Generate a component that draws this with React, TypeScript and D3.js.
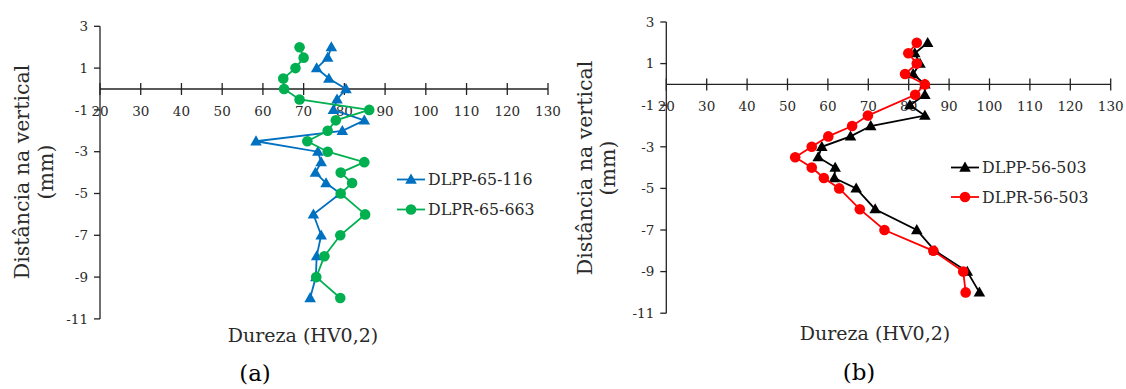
import React from "react";
import * as d3 from "d3";

// ---- data ----
const depthA = [2, 1.5, 1, 0.5, 0, -0.5, -1, -1.5, -2, -2.5, -3, -3.5, -4, -4.5, -5, -6, -7, -8, -9, -10];
const hvDLPP_65_116 = [76.8, 75.9, 73.2, 76.2, 80.4, 78.2, 77.3, 84.9, 79.5, 58.3, 73.5, 74.3, 72.9, 75.5, 79.0, 72.4, 74.3, 73.2, 73.0, 71.6];
const hvDLPR_65_663 = [69.0, 70.0, 68.0, 65.0, 65.2, 69.0, 86.1, 77.9, 75.9, 70.9, 75.9, 84.9, 79.1, 81.9, 79.1, 85.1, 79.0, 75.1, 73.1, 79.0];

const depthB_PP = [2, 1.5, 1, 0.5, 0, -0.5, -1, -1.5, -2, -2.5, -3, -3.5, -4, -4.5, -5, -6, -7, -8, -9, -10];
const hvDLPP_56_503 = [84.7, 81.5, 82.8, 81.1, 84.0, 84.0, 80.3, 84.0, 70.6, 65.6, 58.5, 57.6, 61.8, 61.6, 67.0, 71.7, 82.0, 86.5, 94.5, 97.5];
const depthB_PR = [2, 1.5, 1, 0.5, 0, -0.5, -1.5, -2, -2.5, -3, -3.5, -4, -4.5, -5, -6, -7, -8, -9, -10];
const hvDLPR_56_503 = [82.0, 79.9, 82.0, 79.1, 84.0, 81.6, 69.9, 66.0, 60.1, 56.0, 51.9, 56.0, 59.0, 62.8, 67.9, 74.0, 86.1, 93.5, 94.1];

const xTicks = [20, 30, 40, 50, 60, 70, 80, 90, 100, 110, 120, 130];
const yTicks = [3, 1, -1, -3, -5, -7, -9, -11];

const xTitle = "Dureza (HV0,2)";
const yTitle1 = "Distância na vertical";
const yTitle2 = "(mm)";

type Series = { name: string; x: number[]; y: number[]; color: string; marker: "tri" | "circ" };

const FONT = "'DejaVu Serif', serif";
const TXT = "#2a2a2a";

function Panel(props: {
  x0: number; x1: number; yTop: number; yBot: number;
  series: Series[]; legendX: number; legendY: number; legendGap: number;
  titleX1: number; titleX2: number; titleY: number; xTitleX: number; xTitleY: number;
  tag: string; tagX: number; tagY: number;
}) {
  const { x0, x1, yTop, yBot, series } = props;
  const xs = d3.scaleLinear().domain([20, 130]).range([x0, x1]);
  const ys = d3.scaleLinear().domain([3, -11]).range([yTop, yBot]);
  const y0 = ys(0);
  const line = d3.line<[number, number]>().x((d) => xs(d[0])).y((d) => ys(d[1]));
  const tri = d3.symbol(d3.symbolTriangle, 58)()!;
  const marker = (s: Series, cx: number, cy: number, k: string) =>
    s.marker === "tri" ? (
      <path key={k} d={tri} transform={`translate(${cx},${cy + 0.8})`} fill={s.color} />
    ) : (
      <circle key={k} cx={cx} cy={cy} r={5.3} fill={s.color} />
    );
  return (
    <g>
      {/* y axis */}
      <line x1={x0} x2={x0} y1={yTop} y2={yBot} stroke="#222" strokeWidth={1.3} />
      {yTicks.map((t) => (
        <g key={"yt" + t}>
          <line x1={x0 - 6} x2={x0} y1={ys(t)} y2={ys(t)} stroke="#222" strokeWidth={1.3} />
          <text x={x0 - 12} y={ys(t)} dy="0.35em" textAnchor="end" fontFamily={FONT} fontSize={13.5} fill={TXT}>
            {t}
          </text>
        </g>
      ))}
      {/* x axis at y = 0 */}
      <line x1={x0} x2={x1} y1={y0} y2={y0} stroke="#222" strokeWidth={1.3} />
      {xTicks.map((t) => (
        <g key={"xt" + t}>
          <line x1={xs(t)} x2={xs(t)} y1={y0 - 6} y2={y0 + 6} stroke="#222" strokeWidth={1.3} />
          <text x={xs(t)} y={y0 + 22} dy="0.35em" textAnchor="middle" fontFamily={FONT} fontSize={13.5} fill={TXT}>
            {t}
          </text>
        </g>
      ))}
      {/* series */}
      {series.map((s) => {
        const pts = s.x.map((v, i) => [v, s.y[i]] as [number, number]);
        return (
          <g key={s.name}>
            <path d={line(pts)!} fill="none" stroke={s.color} strokeWidth={1.8} />
            {pts.map((p, i) => marker(s, xs(p[0]), ys(p[1]), s.name + i))}
          </g>
        );
      })}
      {/* legend */}
      {series.map((s, i) => {
        const ly = props.legendY + i * props.legendGap;
        return (
          <g key={"lg" + s.name}>
            <line x1={props.legendX} x2={props.legendX + 28} y1={ly} y2={ly} stroke={s.color} strokeWidth={1.8} />
            {marker(s, props.legendX + 14, ly, "lm" + i)}
            <text x={props.legendX + 31} y={ly} dy="0.35em" fontFamily={FONT} fontSize={15.8} fill={TXT}>
              {s.name}
            </text>
          </g>
        );
      })}
      {/* titles */}
      <text transform={`translate(${props.titleX1},${props.titleY}) rotate(-90)`} textAnchor="middle" dy="0.35em"
        fontFamily={FONT} fontSize={20.5} fill={TXT}>{yTitle1}</text>
      <text transform={`translate(${props.titleX2},${props.titleY}) rotate(-90)`} textAnchor="middle" dy="0.35em"
        fontFamily={FONT} fontSize={20.5} fill={TXT}>{yTitle2}</text>
      <text x={props.xTitleX} y={props.xTitleY} dy="0.35em" textAnchor="middle" fontFamily={FONT} fontSize={19} fill={TXT}>
        {xTitle}
      </text>
      <text x={props.tagX} y={props.tagY} dy="0.35em" textAnchor="middle" fontFamily={FONT} fontSize={23} fill="#000">
        {props.tag}
      </text>
    </g>
  );
}

export default function App() {
  const seriesA: Series[] = [
    { name: "DLPP-65-116", x: hvDLPP_65_116, y: depthA, color: "#0070C0", marker: "tri" },
    { name: "DLPR-65-663", x: hvDLPR_65_663, y: depthA, color: "#00B050", marker: "circ" },
  ];
  const seriesB: Series[] = [
    { name: "DLPP-56-503", x: hvDLPP_56_503, y: depthB_PP, color: "#000000", marker: "tri" },
    { name: "DLPR-56-503", x: hvDLPR_56_503, y: depthB_PR, color: "#FF0000", marker: "circ" },
  ];
  return (
    <svg width={1126} height={389} style={{ position: "absolute", left: 0, top: 0, background: "#fff" }}>
      <rect width={1126} height={389} fill="#fff" />
      <Panel x0={100} x1={548} yTop={26.3} yBot={318.9} series={seriesA}
        legendX={397} legendY={179.5} legendGap={30}
        titleX1={22} titleX2={46} titleY={172} xTitleX={303} xTitleY={335}
        tag="(a)" tagX={255} tagY={373} />
      <Panel x0={666.3} x1={1110.7} yTop={22} yBot={313.2} series={seriesB}
        legendX={951} legendY={167.5} legendGap={29.5}
        titleX1={585} titleX2={608} titleY={168} xTitleX={875} xTitleY={333}
        tag="(b)" tagX={859} tagY={372} />
    </svg>
  );
}
